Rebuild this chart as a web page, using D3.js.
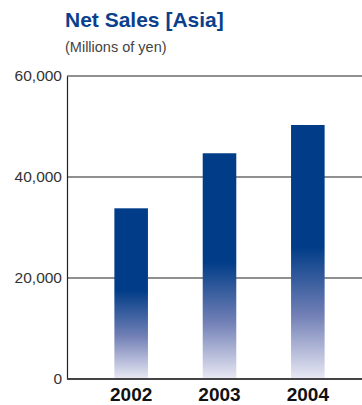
<!DOCTYPE html>
<html>
<head>
<meta charset="utf-8">
<script src="https://cdn.jsdelivr.net/npm/d3@7"></script>
<style>
  body { margin: 0; background: #fff; }
  svg { display: block; font-family: "Liberation Sans", Arial, sans-serif; }
</style>
</head>
<body>
<div id="chart"></div>
<script>
var years = ['2002', '2003', '2004'];
var sales = [33800, 44700, 50300];
var yTicks = [0, 20000, 40000, 60000];

var W = 362, H = 405;
var margin = { left: 67, top: 76, right: 0, bottom: 26 };

var svg = d3.select('#chart').append('svg')
	.attr('width', W)
	.attr('height', H);

// gradient for the bars: solid on top half, fading out to the bottom
var grad = svg.append('defs').append('linearGradient')
	.attr('id', 'barGrad')
	.attr('x1', 0).attr('y1', 0).attr('x2', 0).attr('y2', 1);
grad.append('stop').attr('offset', '0%').attr('stop-color', '#003c87');
grad.append('stop').attr('offset', '48%').attr('stop-color', '#003c87');
grad.append('stop').attr('offset', '75%').attr('stop-color', '#7280b6');
grad.append('stop').attr('offset', '100%').attr('stop-color', '#e9e9f4');

svg.append('text')
	.attr('x', 65).attr('y', 27)
	.style('font-size', '21px')
	.style('font-weight', 'bold')
	.style('fill', '#0b3f8c')
	.text('Net Sales [Asia]');

svg.append('text')
	.attr('x', 65).attr('y', 52)
	.style('font-size', '14.5px')
	.style('fill', '#444')
	.text('(Millions of yen)');

var y = d3.scaleLinear().domain([0, 60000]).range([379, 76]);
var x = d3.scaleBand().domain(years).range([87, 352]).paddingInner(0.62).paddingOuter(0.31);

// gridlines
svg.append('g').selectAll('line')
	.data(yTicks.filter(function (d) { return d > 0; }))
	.enter().append('line')
	.attr('x1', margin.left).attr('x2', W)
	.attr('y1', function (d) { return y(d); })
	.attr('y2', function (d) { return y(d); })
	.attr('stroke', '#222').attr('stroke-width', 1.2);

svg.append('g').selectAll('rect')
	.data(sales)
	.enter().append('rect')
	.attr('x', function (d, i) { return x(years[i]); })
	.attr('width', x.bandwidth())
	.attr('y', function (d) { return y(d); })
	.attr('height', function (d) { return y(0) - y(d); })
	.attr('fill', 'url(#barGrad)');

var yAxis = svg.append('g')
	.attr('transform', 'translate(' + margin.left + ',0)')
	.call(d3.axisLeft(y).tickValues(yTicks).tickSize(0).tickPadding(5)
		.tickFormat(d3.format(',')));
yAxis.select('.domain').attr('stroke', '#222').attr('stroke-width', 1.2);
yAxis.selectAll('text').style('font-size', '15.5px').style('fill', '#333')
	.style('font-family', '"Liberation Sans", Arial, sans-serif');

var xAxis = svg.append('g')
	.attr('transform', 'translate(0,' + y(0) + ')')
	.call(d3.axisBottom(x).tickSize(0).tickPadding(9));
xAxis.select('.domain').attr('d', 'M' + margin.left + ',0H' + W)
	.attr('stroke', '#444').attr('stroke-width', 2);
xAxis.selectAll('text').style('font-size', '19px').style('font-weight', 'bold')
	.style('fill', '#111').attr('dy', '0.71em')
	.style('font-family', '"Liberation Sans", Arial, sans-serif');
</script>
</body>
</html>
